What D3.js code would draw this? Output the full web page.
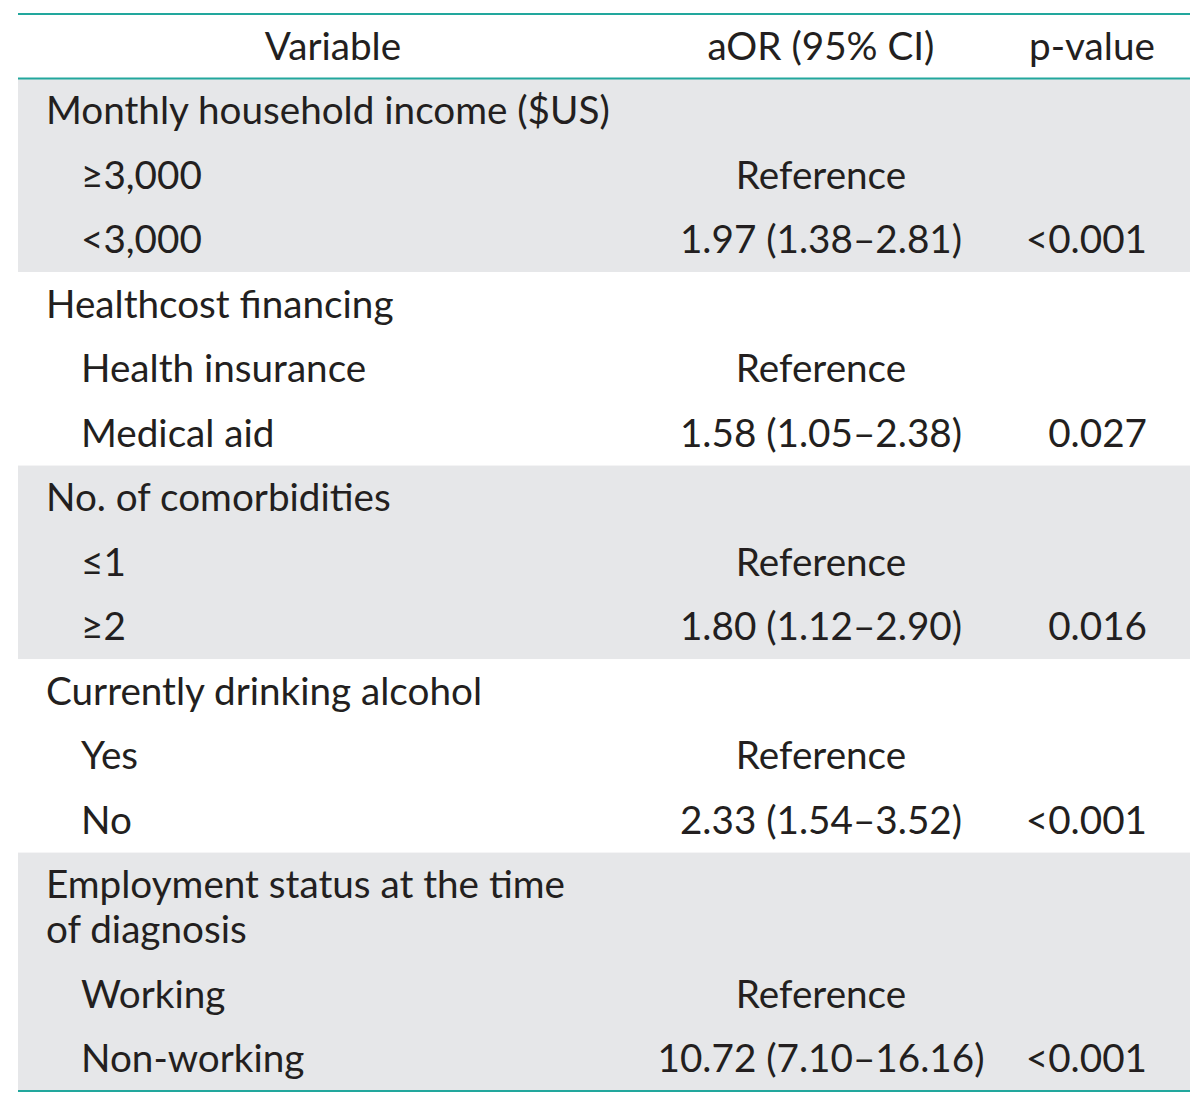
<!DOCTYPE html>
<html><head><meta charset="utf-8">
<script src="https://cdn.jsdelivr.net/npm/d3@7"></script>
<style>html,body{margin:0;padding:0;background:#fff;}</style>
</head><body>
<script>
const headers = ["Variable", "aOR (95% CI)", "p-value"];
const groups = ["Monthly household income ($US)", "Healthcost financing", "No. of comorbidities", "Currently drinking alcohol", "Employment status at the time|of diagnosis"];
const refLevels = ["≥3,000", "Health insurance", "≤1", "Yes", "Working"];
const cmpLevels = ["<3,000", "Medical aid", "≥2", "No", "Non-working"];
const aor = [1.97, 1.58, 1.80, 2.33, 10.72];
const ciLow = [1.38, 1.05, 1.12, 1.54, 7.10];
const ciHigh = [2.81, 2.38, 2.90, 3.52, 16.16];
const pValues = ["<0.001", "0.027", "0.016", "<0.001", "<0.001"];

const W = 1200, H = 1095;
const left = 18, right = 1190;
const teal = "#22a79d", shade = "#e6e7e9", ink = "#231f20";
const fontFamily = "Lato, 'Open Sans', sans-serif";

const svg = d3.select("body").append("svg").attr("width", W).attr("height", H);

// Build rows
const rows = [];
groups.forEach((g, i) => {
  const lines = g.split("|");
  rows.push({type: "group", gi: i, lines: lines, units: 1 + (lines.length - 1) * 0.696});
  rows.push({type: "ref", gi: i, label: refLevels[i], units: 1});
  rows.push({type: "cmp", gi: i, label: cmpLevels[i], units: 1});
});
let acc = 0;
rows.forEach(r => { r.u0 = acc; acc += r.units; r.u1 = acc; });

const y = d3.scaleLinear().domain([0, acc]).range([78.5, 1091]);
const headerY = d3.scaleLinear().domain([0, 1]).range([14, 78.5]);
const x = d3.scaleOrdinal().domain(["group", "level", "aor", "p", "varH", "pH"]).range([46, 81, 821, 1147, 333, 1092]);

const fmt = d3.format(".2f");

// shading
groups.forEach((g, i) => {
  if (i % 2 !== 0) return;
  const gr = rows.filter(r => r.gi === i);
  svg.append("rect").attr("x", left).attr("width", right - left)
    .attr("y", y(gr[0].u0)).attr("height", y(gr[gr.length - 1].u1) - y(gr[0].u0))
    .attr("fill", shade);
});

// font size calibration
const probe = svg.append("text").attr("font-family", fontFamily).attr("font-size", 100).text(groups[0]);
const w100 = probe.node().getComputedTextLength();
probe.remove();
const fs = 100 * 564 / w100;

const txt = (sel) => sel.attr("font-family", fontFamily).attr("font-size", fs).attr("fill", ink);

// header
const hc = (headerY(0) + headerY(1)) / 2;
txt(svg.append("text")).attr("x", x("varH")).attr("y", hc).attr("dy", "0.35em").attr("text-anchor", "middle").text(headers[0]);
txt(svg.append("text")).attr("x", x("aor")).attr("y", hc).attr("dy", "0.35em").attr("text-anchor", "middle").text(headers[1]);
txt(svg.append("text")).attr("x", x("pH")).attr("y", hc).attr("dy", "0.35em").attr("text-anchor", "middle").text(headers[2]);

const lineGap = y(0.696) - y(0);
rows.forEach(r => {
  const top = y(r.u0);
  const c1 = top + (y(1) - y(0)) / 2;
  if (r.type === "group") {
    r.lines.forEach((ln, k) => {
      txt(svg.append("text")).attr("x", x("group")).attr("y", c1 + k * lineGap).attr("dy", "0.35em").text(ln);
    });
  } else {
    txt(svg.append("text")).attr("x", x("level")).attr("y", c1).attr("dy", "0.35em").text(r.label);
    const i = r.gi;
    const aorText = r.type === "ref" ? "Reference" : `${fmt(aor[i])} (${fmt(ciLow[i])}–${fmt(ciHigh[i])})`;
    txt(svg.append("text")).attr("x", x("aor")).attr("y", c1).attr("dy", "0.35em").attr("text-anchor", "middle").text(aorText);
    if (r.type === "cmp") {
      txt(svg.append("text")).attr("x", x("p")).attr("y", c1).attr("dy", "0.35em").attr("text-anchor", "end").text(pValues[i]);
    }
  }
});

// rules
[headerY(0), headerY(1), y(acc)].forEach(yy => {
  svg.append("line").attr("x1", left).attr("x2", right).attr("y1", yy).attr("y2", yy)
    .attr("stroke", teal).attr("stroke-width", 2.2);
});
</script>
</body></html>
